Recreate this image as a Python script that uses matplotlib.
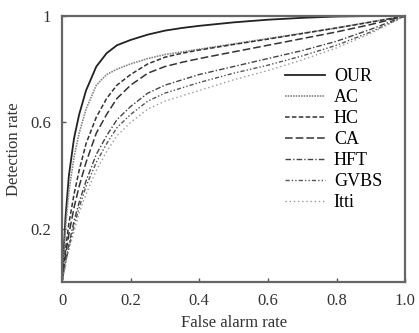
import matplotlib
matplotlib.use('Agg')
import matplotlib.pyplot as plt

fpr = [0, 0.01, 0.02, 0.035, 0.05, 0.07, 0.1, 0.13, 0.16, 0.2, 0.25, 0.3, 0.35, 0.4,
       0.5, 0.6, 0.7, 0.8, 0.9, 1.0]
our = [0, 0.24, 0.40, 0.54, 0.63, 0.72, 0.81, 0.86, 0.89, 0.91, 0.93, 0.945, 0.955, 0.963,
       0.976, 0.986, 0.993, 0.998, 1.0, 1.0]
ac = [0, 0.20, 0.34, 0.47, 0.56, 0.65, 0.74, 0.78, 0.80, 0.82, 0.84, 0.855, 0.865, 0.875,
      0.895, 0.915, 0.935, 0.955, 0.978, 1.0]
hc = [0, 0.12, 0.22, 0.33, 0.42, 0.52, 0.62, 0.69, 0.74, 0.78, 0.82, 0.845, 0.86, 0.872,
      0.893, 0.913, 0.934, 0.955, 0.977, 1.0]
ca = [0, 0.10, 0.18, 0.28, 0.36, 0.45, 0.56, 0.63, 0.69, 0.74, 0.785, 0.81, 0.826, 0.84,
      0.865, 0.89, 0.915, 0.94, 0.968, 1.0]
hft = [0, 0.08, 0.14, 0.23, 0.30, 0.38, 0.48, 0.55, 0.61, 0.66, 0.71, 0.74, 0.76, 0.78,
       0.81, 0.84, 0.87, 0.905, 0.95, 1.0]
gvbs = [0, 0.07, 0.13, 0.21, 0.28, 0.36, 0.45, 0.52, 0.58, 0.63, 0.68, 0.71, 0.73, 0.75,
        0.785, 0.815, 0.85, 0.89, 0.94, 1.0]
itti = [0, 0.06, 0.12, 0.19, 0.26, 0.33, 0.42, 0.49, 0.55, 0.60, 0.65, 0.68, 0.70, 0.72,
        0.76, 0.795, 0.835, 0.88, 0.935, 1.0]

names = ['OUR', 'AC', 'HC', 'CA', 'HFT', 'GVBS', 'Itti']
xticks = [0, 0.2, 0.4, 0.6, 0.8, 1.0]
xtick_labels = ['0', '0.2', '0.4', '0.6', '0.8', '1.0']
yticks = [0.2, 0.6, 1.0]
ytick_labels = ['0.2', '0.6', '1']

plt.rcParams['font.family'] = ['Liberation Serif', 'DejaVu Serif']

fig = plt.figure(figsize=(4.19, 3.33), dpi=100)
ax = fig.add_axes([0.148, 0.153, 0.819, 0.799])

ax.plot(fpr, our, color='#222222', lw=1.3, ls='-', label=names[0])
ax.plot(fpr, ac, color='#888888', lw=1.2, ls=(0, (1, 0.6)), label=names[1])
ax.plot(fpr, hc, color='#333333', lw=1.1, ls=(0, (3, 1.5)), label=names[2])
ax.plot(fpr, ca, color='#333333', lw=1.1, ls=(0, (5, 2)), label=names[3])
ax.plot(fpr, hft, color='#444444', lw=1.0, ls=(0, (4, 1.5, 1, 1.5)), label=names[4])
ax.plot(fpr, gvbs, color='#555555', lw=1.0, ls=(0, (3, 1.5, 1, 1.5, 1, 1.5)), label=names[5])
ax.plot(fpr, itti, color='#999999', lw=1.0, ls=(0, (1, 2)), label=names[6])

ax.set_xlim(0, 1)
ax.set_ylim(0, 1)
ax.set_xticks(xticks)
ax.set_xticklabels(xtick_labels)
ax.set_yticks(yticks)
ax.set_yticklabels(ytick_labels)
ax.tick_params(direction='in', length=3, width=1, labelsize=12, colors='#555555',
               labelcolor='#333333')
ax.tick_params(axis='x', pad=8)
ax.tick_params(axis='y', pad=8)
for s in ax.spines.values():
    s.set_color('#666666')
    s.set_linewidth(1.6)

ax.set_xlabel('False alarm rate', fontsize=12, color='#333333', labelpad=4)
ax.set_ylabel('Detection rate', fontsize=12, color='#333333', labelpad=6)

ax.legend(loc='center right', bbox_to_anchor=(0.98, 0.535), frameon=False,
          fontsize=13, handlelength=2.2, labelspacing=0.22, handletextpad=0.5)

fig.savefig('out.png', dpi=100)
